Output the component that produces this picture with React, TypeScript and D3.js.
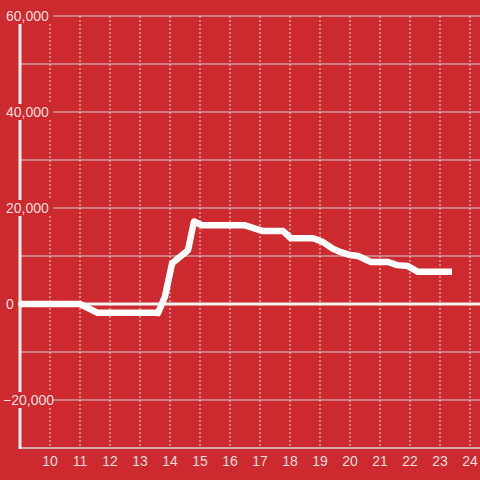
import React from "react";
import * as d3 from "d3";

const hours = [9, 11, 11.57, 13.5, 13.6, 13.83, 14.07, 14.6, 14.8, 15.07, 16.5, 17.1, 17.77, 18.03, 18.77, 19.1, 19.43, 19.7, 20, 20.27, 20.7, 21, 21.27, 21.57, 21.93, 22.27, 23.4];
const values = [0, 0, -1800, -1800, -1900, 1500, 8500, 11200, 17200, 16400, 16400, 15200, 15200, 13700, 13700, 12900, 11500, 10800, 10200, 10000, 8750, 8750, 8750, 8100, 7900, 6700, 6700];
const yTicks = [60000, 50000, 40000, 30000, 20000, 10000, 0, -10000, -20000, -30000];
const yLabeled = [60000, 40000, 20000, 0, -20000];
const xTicks = [10, 11, 12, 13, 14, 15, 16, 17, 18, 19, 20, 21, 22, 23, 24];

const W = 480;
const H = 480;
const BG = "#cc2a2f";
const TXT = "#f6dede";

export default function App() {
  const x = d3.scaleLinear().domain([9, 24]).range([20, 470]);
  const y = d3.scaleLinear().domain([-30000, 60000]).range([448, 16]);
  const line = d3
    .line<number>()
    .x((_, i) => x(hours[i]))
    .y((v) => y(v))(values);
  const fmt = d3.format(",");
  return (
    <svg
      width={W}
      height={H}
      style={{ position: "absolute", left: 0, top: 0, display: "block" }}
      fontFamily="Liberation Sans, Arial, sans-serif"
    >
      <rect x={0} y={0} width={W} height={H} fill={BG} />
      {xTicks.map((t) => (
        <line
          key={"vx" + t}
          x1={x(t)}
          x2={x(t)}
          y1={16}
          y2={448}
          stroke="#dcdcdc"
          strokeWidth={1}
          strokeDasharray="2,2"
        />
      ))}
      {yTicks.map((t) =>
        t === 0 || t === -30000 ? null : (
          <line key={"gy" + t} x1={20} x2={W} y1={y(t)} y2={y(t)} stroke="#d0d0d0" strokeWidth={1} />
        )
      )}
      <line x1={20} x2={W} y1={448} y2={448} stroke="#d8d8d8" strokeWidth={1.5} />
      <line x1={20} x2={20} y1={16} y2={449} stroke="#f2f2f2" strokeWidth={3} />
      <line x1={18} x2={W} y1={y(0)} y2={y(0)} stroke="#f2f2f2" strokeWidth={3} />
      {yLabeled.map((t) => {
        const s = fmt(t);
        const w = t === 0 ? 11 : 48;
        return (
          <g key={"yl" + t}>
            <rect x={5} y={y(t) - 8} width={w} height={16} fill={BG} />
            <text x={t < 0 ? 3 : 6} y={y(t)} dy="0.35em" fill={TXT} fontSize={14} textAnchor="start">
              {s}
            </text>
          </g>
        );
      })}
      {xTicks.map((t) => (
        <text key={"xl" + t} x={x(t)} y={466} fill={TXT} fontSize={14} textAnchor="middle">
          {t}
        </text>
      ))}
      <path d={line || ""} fill="none" stroke="#ffffff" strokeWidth={6.5} strokeLinejoin="round" strokeLinecap="butt" />
    </svg>
  );
}
